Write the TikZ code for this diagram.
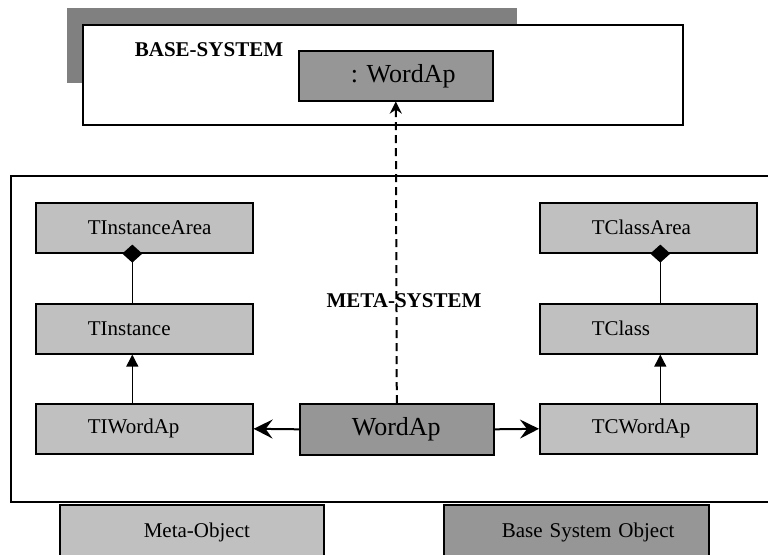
\documentclass[tikz,border=0pt]{standalone}
\usepackage{fontspec}
\setmainfont{Liberation Serif}
\usetikzlibrary{arrows.meta}

\definecolor{metagrey}{RGB}{192,192,192}
\definecolor{basegrey}{RGB}{150,150,150}
\definecolor{bannergrey}{RGB}{128,128,128}

\tikzset{
  frame/.style={draw=black, line width=2pt},
  cls/.style={draw=black, line width=1.6pt, minimum height=50pt, inner xsep=0pt,
    align=left, anchor=north west, font=\fontsize{21pt}{25pt}\selectfont,
    execute at begin node={\hspace*{#1}}},
  cls/.default=52pt,
  meta/.style={fill=metagrey, text width=217pt},
  base/.style={fill=basegrey, text width=194pt},
  title/.style={font=\fontsize{21pt}{25pt}\selectfont\bfseries},
  inherit/.style={-{Triangle[length=12pt,width=12pt]}, line width=1.3pt},
  compose/.style={{Diamond[length=18pt,width=20pt]}-, line width=1.6pt, shorten <=-9pt},
  uses/.style={-{Stealth[length=19pt,width=19pt,inset=7pt]}, line width=2pt},
  instof/.style={-{Stealth[length=12pt,width=12pt,inset=4pt]}, line width=2pt,
    dash pattern=on 8pt off 5pt}
}

\begin{document}
\begin{tikzpicture}[x=1pt,y=-1pt]
\useasboundingbox (0,0) rectangle (768,554);
\clip (0,0) rectangle (768,554);

%BASE SYSTEM
\fill[bannergrey] (67,8) rectangle (517,83);
\draw[frame, fill=white] (83,25) rectangle (683,125);
\node[title] (basetitle) at (209,50) {BASE-SYSTEM};
\node[cls, base, font=\fontsize{26pt}{30pt}\selectfont] (baseobj) at (298,50) {:\ WordAp};

%META SYSTEM
\draw[frame] (11,176) rectangle (790,502);
\node[title] (metatitle) at (404,301) {META-SYSTEM};

% left column
\node[cls, meta] (tinstarea) at (35,202) {TInstanceArea};
\node[cls, meta] (tinst) at (35,303) {TInstance};
\node[cls, meta] (tiwordap) at (35,403) {TIWordAp};
% right column
\node[cls, meta] (tclassarea) at (539,202) {TClassArea};
\node[cls, meta] (tclass) at (539,303) {TClass};
\node[cls, meta] (tcwordap) at (539,403) {TCWordAp};
% middle
\node[cls, base, minimum height=51pt, font=\fontsize{26pt}{30pt}\selectfont] (wordap) at (299,403) {WordAp};

%CONNECTORS
\draw[compose] ([xshift=-12pt]tinstarea.south) -- ([xshift=-12pt]tinst.north);
\draw[inherit] ([xshift=-12pt]tiwordap.north) -- ([xshift=-12pt]tinst.south);
\draw[compose] ([xshift=12pt]tclassarea.south) -- ([xshift=12pt]tclass.north);
\draw[inherit] ([xshift=12pt]tcwordap.north) -- ([xshift=12pt]tclass.south);

\draw[uses] (wordap.west) -- (tiwordap.east);
\draw[uses] (wordap.east) -- (tcwordap.west);
\draw[instof] (wordap.north) -- (baseobj.south);

%LEGEND
\node[cls=84pt, fill=metagrey, text width=264pt, minimum height=56pt] (legmeta) at (59,504) {Meta-Object};
\node[cls=58pt, fill=basegrey, text width=265pt, minimum height=56pt] (legbase) at (443,504) {Base System Object};

\end{tikzpicture}
\end{document}
